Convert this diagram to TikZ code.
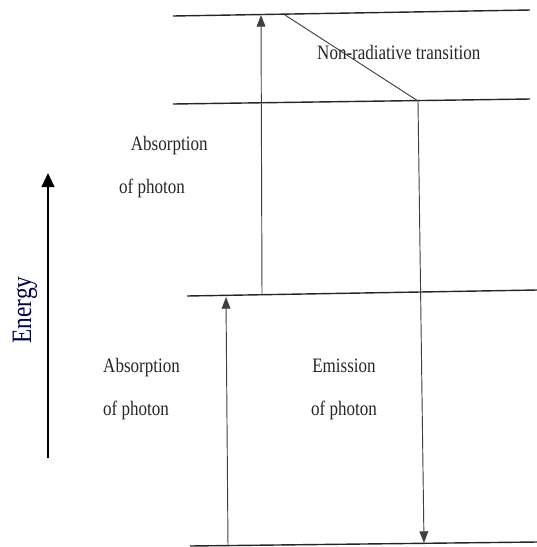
\documentclass[tikz,border=0pt]{standalone}
\usepackage{fontspec}
\setmainfont{Liberation Serif}[FakeStretch=0.83]
\usetikzlibrary{arrows.meta}

\begin{document}
\begin{tikzpicture}[
  x=0.03cm, y=-0.03cm,
  level/.style={draw=black!85, line width=1.2pt},
  trans/.style={draw=black!75, line width=0.8pt},
  trup/.style={trans, -{Triangle[length=10pt, width=7.5pt]}},
  lbl/.style={font=\fontsize{17.5}{36.7}\selectfont, text=black!85, inner sep=0pt}
]
\useasboundingbox (0,0) rectangle (537,547);

% --- energy levels (top to bottom) ---
\coordinate (e3a) at (173,16);  \coordinate (e3b) at (530,10);
\coordinate (e2a) at (173,104); \coordinate (e2b) at (530,99);
\coordinate (e1a) at (187,296); \coordinate (e1b) at (537,290);
\coordinate (e0a) at (190,546); \coordinate (e0b) at (537,542);
\draw[level] (e3a) -- (e3b);
\draw[level] (e2a) -- (e2b);
\draw[level] (e1a) -- (e1b);
\draw[level] (e0a) -- (e0b);

% --- transitions ---
\coordinate (up1s) at (262,295); \coordinate (up1e) at (261,15);
\coordinate (nr1)  at (285,15);  \coordinate (nr2)  at (418,101);
\coordinate (em1)  at (424,543);
\coordinate (up0s) at (228,546); \coordinate (up0e) at (226,297);

\draw[trup] (up1s) -- (up1e);
\draw[trans] (nr1) -- (nr2);
\draw[trup] (nr2) -- (em1);
\draw[trup] (up0s) -- (up0e);

% labels
\node[lbl, anchor=base west] (nrlbl) at (317,59) {Non-radiative transition};
\node[lbl, anchor=west, align=left] (abs1) at (119,167) {\hspace*{10pt}Absorption\\of photon};
\node[lbl, anchor=west, align=left] (abs0) at (103,389) {Absorption\\of photon};
\node[lbl, align=center] (emi) at (344,389) {Emission\\of photon};

% --- energy axis ---
\coordinate (ax0) at (48,458); \coordinate (ax1) at (48,173);
\draw[line width=1.4pt, -{Triangle[length=12pt, width=11pt]}] (ax0) -- (ax1);
\node[font=\fontsize{24}{28}\selectfont, text=blue!30!black, rotate=90] (elbl) at (25,310) {Energy};

\end{tikzpicture}
\end{document}
